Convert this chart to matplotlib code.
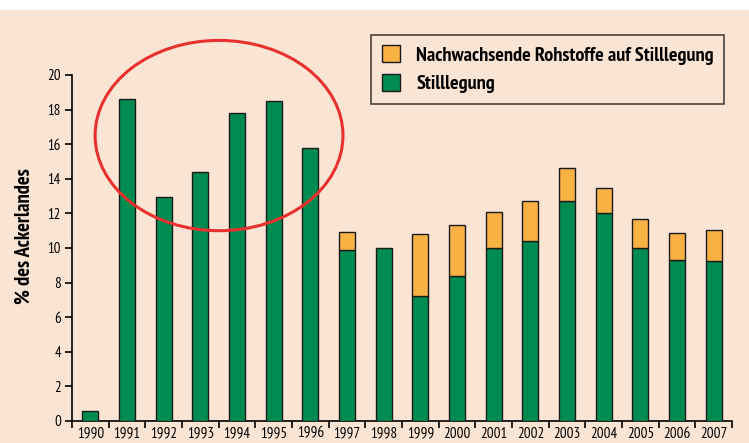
import numpy as np
import matplotlib.pyplot as plt
from matplotlib import font_manager
from matplotlib.patches import Ellipse, Rectangle

years = [str(y) for y in range(1990, 2008)]
stilllegung = [0.6, 18.6, 12.95, 14.4, 17.8, 18.5, 15.8, 9.9, 10.0, 7.2,
               8.4, 10.0, 10.4, 12.7, 12.05, 10.0, 9.3, 9.25]
nawaro = [0.0, 0.0, 0.0, 0.0, 0.0, 0.0, 0.0, 1.0, 0.0, 3.6,
          2.95, 2.1, 2.3, 1.95, 1.4, 1.65, 1.55, 1.8]

green = "#008c50"
orange = "#f8b143"
bg = "#fae5d4"
edge = "#1a1a1a"

# original uses a condensed humanist sans; take the first one we have
wanted = ["PT Sans Narrow", "Fira Sans Condensed", "Open Sans Condensed",
          "Roboto Condensed", "Asap Condensed", "Barlow Semi Condensed",
          "Barlow Condensed", "Archivo Narrow", "DejaVu Sans"]
have = {}
for f in font_manager.fontManager.ttflist:
    if f.style == "normal":
        have.setdefault(f.name, set()).add(f.weight)
family = next(n for n in wanted if n in have)
plt.rcParams['font.family'] = [family, 'DejaVu Sans']

fig = plt.figure(figsize=(7.49, 4.43), dpi=100)
renderer = fig.canvas.get_renderer()


def fit_size(text, target_px, weight="normal"):
    # font size that makes the text as wide as in the original
    t = fig.text(0, 0, text, fontsize=10, fontweight=weight)
    w = t.get_window_extent(renderer).width
    t.remove()
    return 10 * target_px / w


tick_size = fit_size("1990", 27)
legend_size = fit_size("Nachwachsende Rohstoffe auf Stilllegung", 302, "bold")
ylabel_size = fit_size("% des Ackerlandes", 137, "bold")

fig.patch.set_facecolor(bg)
# white strip on top
fig.patches.append(Rectangle((0, 1 - 10 / 443), 1, 10 / 443, transform=fig.transFigure,
                             facecolor="white", edgecolor="none", zorder=0))

ax = fig.add_axes([72 / 749, 1 - 421 / 443, 660 / 749, 346 / 443])
ax.set_facecolor(bg)

x = np.arange(len(years))
ax.bar(x, stilllegung, width=0.44, color=green, edgecolor=edge, linewidth=1.0,
       label="Stilllegung", zorder=3)
top = [v if v > 0 else np.nan for v in nawaro]
ax.bar(x, top, width=0.44, bottom=stilllegung, color=orange, edgecolor=edge,
       linewidth=1.0, label="Nachwachsende Rohstoffe auf Stilllegung", zorder=3)

ax.set_xlim(-0.5, len(years) - 0.5)
ax.set_ylim(0, 20)
ax.set_yticks(range(0, 21, 2))
ax.set_xticks(x)
ax.set_xticklabels(years)
ax.set_xticks(np.arange(-0.5, len(years), 1), minor=True)
ax.tick_params(axis="x", which="major", length=0, pad=4, labelsize=tick_size)
ax.tick_params(axis="x", which="minor", length=5, width=1.2, direction="out")
ax.tick_params(axis="y", length=5, width=1.2, pad=3, labelsize=tick_size)

for s in ["top", "right"]:
    ax.spines[s].set_visible(False)
for s in ["left", "bottom"]:
    ax.spines[s].set_linewidth(1.2)

ax.set_ylabel("% des Ackerlandes", fontsize=ylabel_size, fontweight="bold")
ax.yaxis.set_label_coords((24.5 - 72) / 660, (421 - 236.5) / 346)
ax.yaxis.label.set_verticalalignment("center")

# red ellipse around 1991-1996
ell = Ellipse((3.51, 16.5), 6.76, 11.0, fill=False, edgecolor="#e8312f",
              linewidth=2.2, clip_on=False, zorder=4)
ax.add_patch(ell)

handles, labels = ax.get_legend_handles_labels()
leg = ax.legend(handles[::-1], labels[::-1], loc="upper right",
                bbox_to_anchor=(724 / 749, 1 - 35 / 443), bbox_transform=fig.transFigure,
                borderaxespad=0,
                prop={"weight": "bold", "size": legend_size}, frameon=True, fancybox=False,
                edgecolor=edge, facecolor=bg, handlelength=0.9, handleheight=0.9,
                borderpad=0.5, labelspacing=0.45, handletextpad=0.8)
leg.get_frame().set_linewidth(1.2)

fig.savefig("out.png", dpi=100, facecolor=fig.get_facecolor())
